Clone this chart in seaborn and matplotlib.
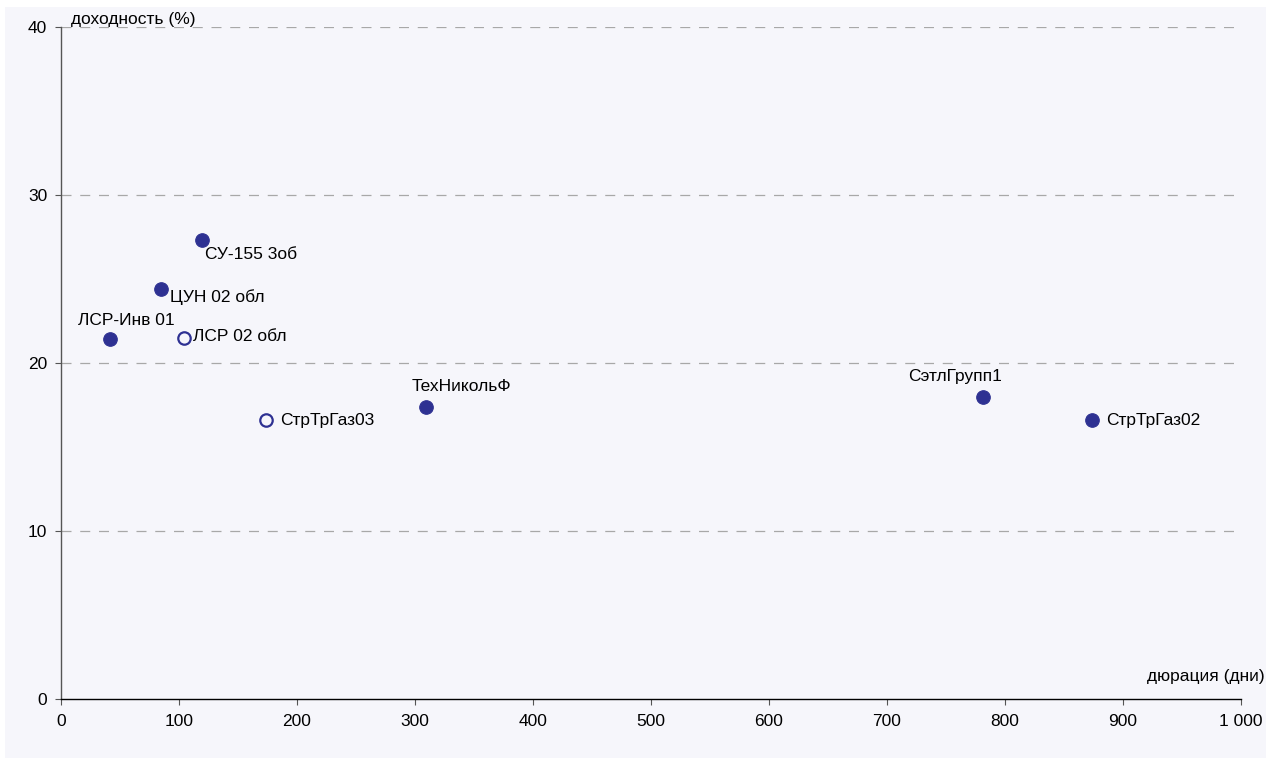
import matplotlib.pyplot as plt
import seaborn as sns
import pandas as pd
import numpy as np
from matplotlib.patches import Rectangle
from matplotlib.ticker import FuncFormatter

# Bond data
names = ['ЛСР-Инв 01', 'ЦУН 02 обл', 'СУ-155 3об', 'ЛСР 02 обл',
         'СтрТрГаз03', 'ТехНикольФ', 'СэтлГрупп1', 'СтрТрГаз02']
duration = [41.5, 84.7, 119.5, 104, 173.7, 309, 781, 873.7]
yields = [21.4, 24.4, 27.3, 21.5, 16.6, 17.4, 18.0, 16.6]
filled = [True, True, True, False, False, True, True, True]

# label offsets in pixels and alignment
offsets = [(16, 19, 'center'), (9, -8, 'left'), (3, -14, 'left'), (9, 1, 'left'),
           (14, 0, 'left'), (-14, 20, 'left'), (-74, 20, 'left'), (14, 0, 'left')]

df = pd.DataFrame({'name': names, 'x': duration, 'y': yields, 'filled': filled})

sns.set_theme(style="white")
plt.rcParams['font.family'] = ['Liberation Sans', 'DejaVu Sans']
plt.rcParams['text.color'] = 'black'

bg = '#F6F6FB'
dot = '#2E3192'
fs = 12.5

fig = plt.figure(figsize=(12.68, 7.62), dpi=100, facecolor='white')
fig.patches.append(Rectangle((5 / 1268, 0.005), 1 - 7 / 1268, 1 - 11 / 762,
                             transform=fig.transFigure, facecolor=bg,
                             edgecolor='none', zorder=-5))
ax = fig.add_axes([61 / 1268, 1 - 699 / 762, 1180 / 1268, 672 / 762])
ax.set_facecolor(bg)

sns.scatterplot(data=df[df['filled']], x='x', y='y', ax=ax, s=95,
                color=dot, edgecolor=dot, linewidth=0.8, zorder=3)
sns.scatterplot(data=df[~df['filled']], x='x', y='y', ax=ax, s=80,
                facecolor=bg, edgecolor=dot, linewidth=1.6, zorder=3)

for i, r in df.iterrows():
    dx, dy, ha = offsets[i]
    ax.annotate(r['name'], (r['x'], r['y']), xytext=(dx, dy),
                textcoords='offset pixels', ha=ha, va='center',
                fontsize=fs, color='black')

ax.set_xlim(0, 1000)
ax.set_ylim(0, 40)
ax.set_xticks(np.arange(0, 1001, 100))
ax.set_yticks([0, 10, 20, 30, 40])
ax.xaxis.set_major_formatter(FuncFormatter(lambda v, p: f'{int(v):,}'.replace(',', ' ')))
ax.tick_params(axis='both', labelsize=fs, length=4, width=0.8,
               direction='out', color='#555555', pad=6, labelcolor='black')
ax.tick_params(axis='x', bottom=True, pad=7)
ax.tick_params(axis='y', left=True)

for g in [10, 20, 30, 40]:
    ax.axhline(g, color='#A8A8A8', linewidth=0.9, dashes=(8, 7), zorder=1)

for s in ['top', 'right']:
    ax.spines[s].set_visible(False)
ax.spines['left'].set_color('#555555')
ax.spines['bottom'].set_color('black')
ax.spines['left'].set_linewidth(1.0)
ax.spines['bottom'].set_linewidth(1.0)

ax.set_xlabel('')
ax.set_ylabel('')
ax.text(8.5, 40.0, 'доходность (%)', ha='left', va='bottom', fontsize=fs, color='black')
ax.text(1.0203, 0.033, 'дюрация (дни)', transform=ax.transAxes,
        ha='right', va='center', fontsize=fs, color='black')

plt.savefig('out.png', dpi=100, facecolor='white')
